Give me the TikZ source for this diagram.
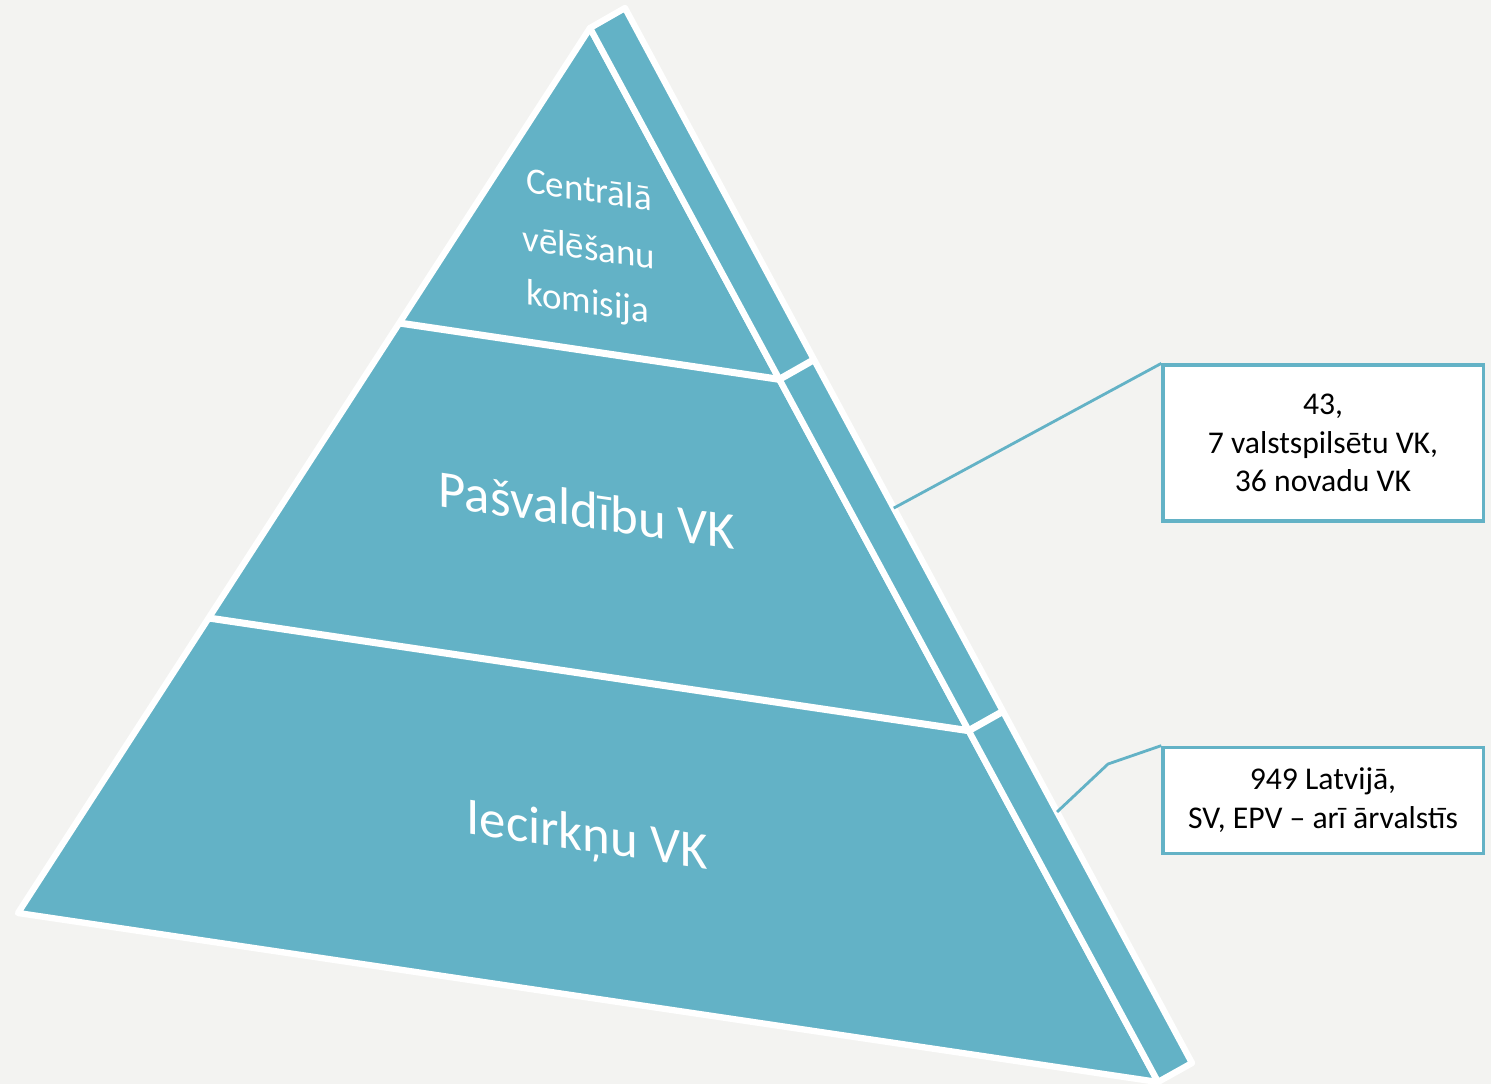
\documentclass[tikz,border=0pt]{standalone}
\usepackage{fontspec}
\setmainfont{Carlito}
\usetikzlibrary{calc}
\definecolor{vkteal}{RGB}{99,178,198}
\definecolor{vkback}{RGB}{243,243,241}
\tikzset{
  face/.style     = {fill=vkteal, draw=white, line width=1.8pt, line join=round},
  split/.style    = {draw=white, line width=2pt},
  level/.style    = {text=white, inner sep=0pt, yslant=-0.146, font=\fontsize{15}{18}\selectfont},
  toplevel/.style = {level, font=\fontsize{10.5}{16}\selectfont},
  note/.style     = {draw=vkteal, fill=white, line width=0.9pt, align=center, minimum width=3.2cm,
                     font=\fontsize{9}{10.9}\selectfont},
  lead/.style     = {draw=vkteal, line width=0.8pt}
}

\begin{document}
\begin{tikzpicture}[x=0.01cm, y=-0.01cm]

% Background
\fill[vkback] (0,0) rectangle (1491,1084);
\useasboundingbox (0,0) rectangle (1491,1084);

% Pyramid corners
\coordinate (A)  at (590,28);
\coordinate (T)  at (625,8);
\coordinate (BL) at (18,913);
\coordinate (BR) at (1158,1082);
\coordinate (BS) at (1192,1063);

% Faces
\draw[face] (A) -- (BL) -- (BR) -- cycle;
\draw[face] (A) -- (T) -- (BS) -- (BR) -- cycle;

% Level borders
\draw[split] ($(A)!1/3!(BL)$) -- ($(A)!1/3!(BR)$) -- ($(T)!1/3!(BS)$);
\draw[split] ($(A)!2/3!(BL)$) -- ($(A)!2/3!(BR)$) -- ($(T)!2/3!(BS)$);

% Level names
\draw node [toplevel] (c1) at (589,189) {Centrālā};
\draw node [toplevel] (c2) at (589,247) {vēlēšanu};
\draw node [toplevel] (c3) at (588,304) {komisija};
\draw node [level] (pvk) at (587,510) {Pašvaldību VK};
\draw node [level] (ivk) at (587,838) {Iecirkņu VK};

% Notes
\draw node [note, minimum height=1.56cm] (note1) at (1323,443) {43,\\7 valstspilsētu VK,\\36 novadu VK};
\draw node [note, minimum height=1.06cm, below of=note1, node distance=3.57cm] (note2) {949 Latvijā,\\SV, EPV -- arī ārvalstīs};

% Leads
\coordinate (tip1) at ($(T)!0.474!(BS)$);
\coordinate (tip2) at ($(T)!0.762!(BS)$);
\draw[lead] (tip1) -- (note1.north west);
\draw[lead] (tip2) -- (1108,764) -- (note2.north west);

\end{tikzpicture}
\end{document}
